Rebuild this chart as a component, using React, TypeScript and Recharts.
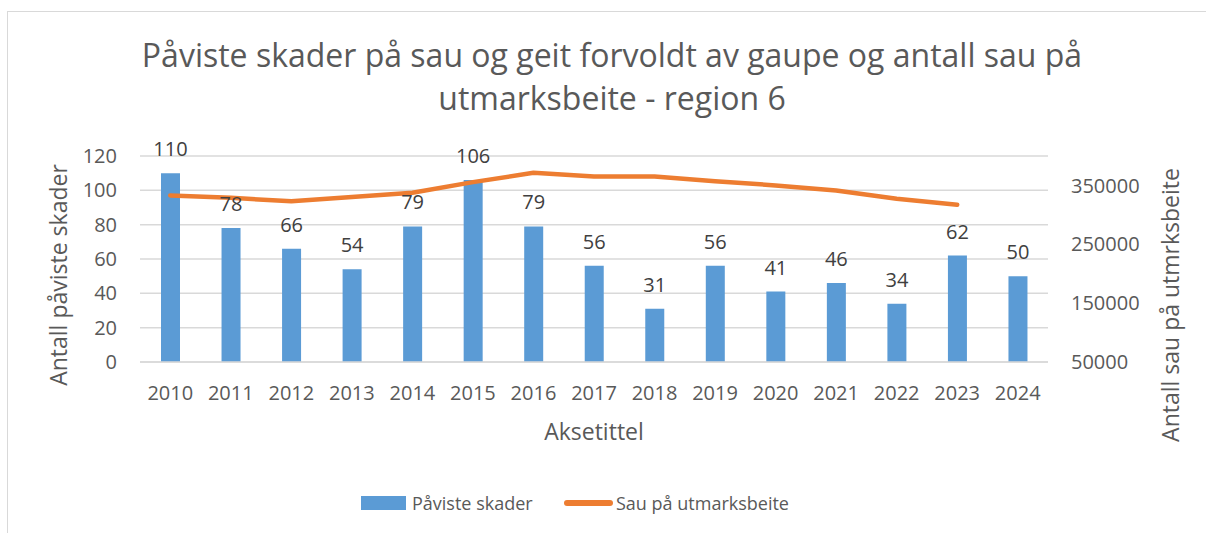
import React from 'react';
import {
  ComposedChart,
  Bar,
  Line,
  XAxis,
  YAxis,
  CartesianGrid,
  LabelList,
  Label,
} from 'recharts';

// Values
const years = ['2010', '2011', '2012', '2013', '2014', '2015', '2016', '2017', '2018', '2019', '2020', '2021', '2022', '2023', '2024'];
const skader = [110, 78, 66, 54, 79, 106, 79, 56, 31, 56, 41, 46, 34, 62, 50];
const sauUtmark = [333000, 329000, 323000, 330500, 337600, 355600, 371500, 365300, 365300, 357300, 350000, 341500, 327500, 317300, null];
const leftTicks = [0, 20, 40, 60, 80, 100, 120];
const rightTicks = [50000, 150000, 250000, 350000];

const data = years.map((year, i) => ({ year, skader: skader[i], sau: sauUtmark[i] }));

const FONT = '"Open Sans", sans-serif';
const TEXT = '#595959';
const BLUE = '#5B9BD5';
const ORANGE = '#ED7D31';
const GRID = '#D9D9D9';

const App: React.FC = () => {
  return (
    <div
      style={{
        position: 'absolute',
        left: 0,
        top: 0,
        width: 1206,
        height: 533,
        overflow: 'hidden',
        background: '#fff',
        fontFamily: FONT,
      }}
    >
      {/* chart frame */}
      <div
        style={{
          position: 'absolute',
          left: 7,
          top: 11,
          width: 1300,
          height: 700,
          border: `1px solid ${GRID}`,
        }}
      />

      {/* title */}
      <div
        style={{
          position: 'absolute',
          left: 12,
          top: 33,
          width: 1200,
          textAlign: 'center',
          fontSize: 32,
          lineHeight: '43px',
          color: TEXT,
        }}
      >
        Påviste skader på sau og geit forvoldt av gaupe og antall sau på
        <br />
        utmarksbeite - region 6
      </div>

      <div style={{ position: 'absolute', left: 0, top: 0 }}>
        <ComposedChart
          width={1206}
          height={533}
          data={data}
          margin={{ top: 156, right: 68, left: 80, bottom: 111 }}
        >
          <CartesianGrid yAxisId="left" vertical={false} stroke={GRID} strokeWidth={1.5} />
          <XAxis
            dataKey="year"
            height={60}
            tickLine={false}
            tickSize={0}
            tickMargin={24}
            axisLine={{ stroke: GRID, strokeWidth: 1.5 }}
            tick={{ fontSize: 20, fill: TEXT, fontFamily: FONT }}
            interval={0}
          >
            <Label
              content={() => (
                <text x={594} y={440} textAnchor="middle" fontSize={23} fill={TEXT} fontFamily={FONT}>
                  Aksetittel
                </text>
              )}
            />
          </XAxis>
          <YAxis
            yAxisId="left"
            width={60}
            domain={[0, 120]}
            ticks={leftTicks}
            tickLine={false}
            tickSize={0}
            tickMargin={23}
            axisLine={false}
            tick={{ fontSize: 20, fill: TEXT, fontFamily: FONT }}
          >
            <Label
              content={() => (
                <text
                  x={67}
                  y={275}
                  transform="rotate(-90 67 275)"
                  textAnchor="middle"
                  fontSize={23}
                  fill={TEXT}
                  fontFamily={FONT}
                >
                  Antall påviste skader
                </text>
              )}
            />
          </YAxis>
          <YAxis
            yAxisId="right"
            orientation="right"
            width={90}
            domain={[50000, 400000]}
            ticks={rightTicks}
            tickLine={false}
            tickSize={0}
            tickMargin={23}
            axisLine={false}
            tick={{ fontSize: 20, fill: TEXT, fontFamily: FONT, textAnchor: 'start' }}
          >
            <Label
              content={() => (
                <text
                  x={1179}
                  y={305}
                  transform="rotate(-90 1179 305)"
                  textAnchor="middle"
                  fontSize={23}
                  fill={TEXT}
                  fontFamily={FONT}
                >
                  Antall sau på utmrksbeite
                </text>
              )}
            />
          </YAxis>
          <Bar yAxisId="left" dataKey="skader" fill={BLUE} barSize={19} isAnimationActive={false}>
            <LabelList
              dataKey="skader"
              position="top"
              offset={17}
              style={{ fontSize: 20, fill: '#404040', fontFamily: FONT }}
            />
          </Bar>
          <Line
            yAxisId="right"
            type="linear"
            dataKey="sau"
            stroke={ORANGE}
            strokeWidth={4.5}
            strokeLinecap="round"
            strokeLinejoin="round"
            dot={false}
            activeDot={false}
            isAnimationActive={false}
          />
        </ComposedChart>
      </div>

      {/* legend */}
      <div style={{ position: 'absolute', left: 361, top: 496, width: 45, height: 14, background: BLUE }} />
      <div style={{ position: 'absolute', left: 412, top: 494, fontSize: 18, lineHeight: '18px', color: TEXT, whiteSpace: 'nowrap' }}>
        Påviste skader
      </div>
      <div style={{ position: 'absolute', left: 564, top: 500, width: 49, height: 6, borderRadius: 3, background: ORANGE }} />
      <div style={{ position: 'absolute', left: 616, top: 494, fontSize: 18, lineHeight: '18px', color: TEXT, whiteSpace: 'nowrap' }}>
        Sau på utmarksbeite
      </div>
    </div>
  );
};

export default App;
